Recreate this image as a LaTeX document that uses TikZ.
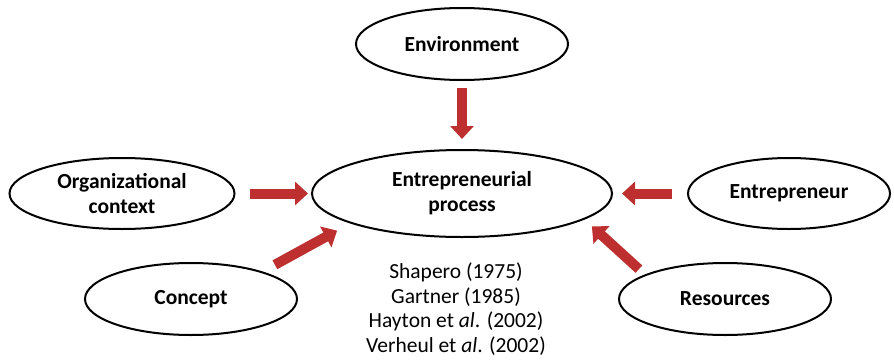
\documentclass[tikz,border=0pt]{standalone}
\usepackage{fontspec}
\setmainfont{Carlito}
\usepackage{tikz}
\usetikzlibrary{arrows.meta,shapes,positioning}
\usepackage{xcolor}
\definecolor{epred}{RGB}{190,48,48}
\tikzstyle{bubble} = [ellipse, draw=black, line width=2pt, fill=white, inner sep=0pt, align=center, font=\fontsize{21.5}{25}\selectfont\bfseries]
\tikzstyle{redarrow} = [line width=10pt, color=epred, -{Triangle[width=23pt,length=13pt]}]

\begin{document}
\begin{tikzpicture}[x=1pt, y=1pt]
    \useasboundingbox (0,0) rectangle (894,-362);

    % Factors around the process
    \node[bubble, minimum width=212pt, minimum height=72pt] (env) at (462,-44) {Environment};
    \node[bubble, minimum width=300pt, minimum height=87pt] (proc) at (462,-193.5) {Entrepreneurial\\process};
    \node[bubble, minimum width=225pt, minimum height=71pt] (org) at (122,-193.5) {Organizational\\context};
    \node[bubble, minimum width=202pt, minimum height=71pt] (ent) at (789,-193.5) {Entrepreneur};
    \node[bubble, minimum width=212pt, minimum height=72pt] (concept) at (191,-299) {Concept};
    \node[bubble, minimum width=212pt, minimum height=72pt] (res) at (725,-299) {Resources};

    % References
    \node[align=center, inner sep=0pt, font=\fontsize{21.5}{24.7}\selectfont] (refs) at (456,-309)
        {Shapero (1975)\\Gartner (1985)\\Hayton et \textit{al}. (2002)\\Verheul et \textit{al}. (2002)};

    % Arrows
    \draw[redarrow, shorten <=7pt, shorten >=10pt] (env.south) -- (proc.north);
    \draw[redarrow, shorten <=14pt, shorten >=3pt] (org.east) -- (proc.west);
    \draw[redarrow, shorten <=15pt, shorten >=9pt] (ent.west) -- (proc.east);
    \draw[redarrow, shorten <=14pt, shorten >=15pt] (concept.21) -- (proc.195);
    \draw[redarrow, shorten <=8pt, shorten >=10pt] (res.163) -- (proc.348);
\end{tikzpicture}
\end{document}
